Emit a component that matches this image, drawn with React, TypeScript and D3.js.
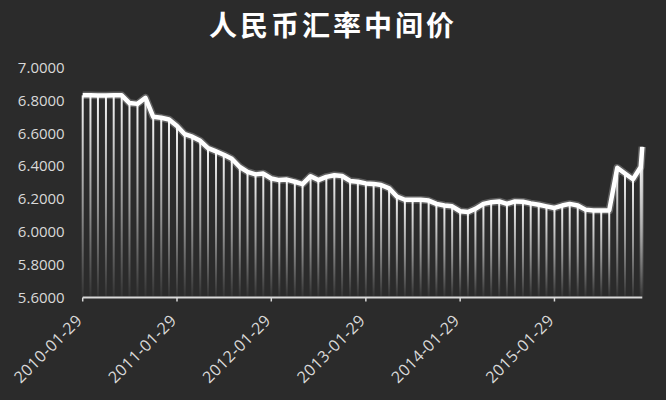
import { useMemo } from "react";
import * as d3 from "d3";

const WIDTH = 666;
const HEIGHT = 400;
const MARGIN = { top: 67, right: 23.7, bottom: 103.5, left: 82.7 };

const TITLE = "人民币汇率中间价";

// month-end fixing, one value per month from 2010-01-29 to 2015-12-29
const FIRST_YEAR = 2010;
const rates = [
  6.827, 6.827, 6.826, 6.826, 6.828, 6.827, 6.78, 6.775, 6.812, 6.696, 6.69, 6.68,
  6.64, 6.59, 6.575, 6.55, 6.505, 6.485, 6.465, 6.44, 6.39, 6.36, 6.345, 6.35,
  6.32, 6.31, 6.313, 6.3, 6.285, 6.334, 6.31, 6.33, 6.34, 6.335, 6.305, 6.3,
  6.29, 6.287, 6.28, 6.26, 6.21, 6.19, 6.19, 6.19, 6.185, 6.165, 6.155, 6.15,
  6.12, 6.115, 6.135, 6.165, 6.175, 6.18, 6.165, 6.18, 6.178, 6.168, 6.16, 6.15,
  6.14, 6.155, 6.165, 6.155, 6.13, 6.125, 6.125, 6.125, 6.385, 6.35, 6.315, 6.39,
];
// one more daily print a few days after the last month
const LAST_DATE = "2016-01-04";
const LAST_RATE = 6.513;

const Y_TICKS = [5.6, 5.8, 6.0, 6.2, 6.4, 6.6, 6.8, 7.0];
const X_TICK_LABELS = [
  "2010-01-29",
  "2011-01-29",
  "2012-01-29",
  "2013-01-29",
  "2014-01-29",
  "2015-01-29",
];

const parseDate = d3.timeParse("%Y-%m-%d");

export default function App() {
  const boundsWidth = WIDTH - MARGIN.left - MARGIN.right;
  const boundsHeight = HEIGHT - MARGIN.top - MARGIN.bottom;

  const data = useMemo(() => {
    const monthly = rates.map((v, i) => {
      const year = FIRST_YEAR + Math.floor(i / 12);
      const month = i % 12;
      const lastDay = new Date(year, month + 1, 0).getDate();
      return { date: new Date(year, month, Math.min(29, lastDay)), value: v };
    });
    return [...monthly, { date: parseDate(LAST_DATE) as Date, value: LAST_RATE }];
  }, []);

  const xScale = useMemo(
    () =>
      d3
        .scaleTime()
        .domain([data[0].date, data[data.length - 1].date])
        .range([0, boundsWidth]),
    [data]
  );

  const yScale = useMemo(
    () => d3.scaleLinear().domain([5.6, 7.0]).range([boundsHeight, 0]),
    []
  );

  const linePath = d3
    .line<{ date: Date; value: number }>()
    .x((d) => xScale(d.date))
    .y((d) => yScale(d.value))(data) as string;

  const fmt = d3.format(".4f");

  return (
    <div
      style={{
        position: "fixed",
        left: 0,
        top: 0,
        width: WIDTH,
        height: HEIGHT,
        background: "#2b2b2b",
      }}
    >
      <svg width={WIDTH} height={HEIGHT} style={{ display: "block" }}>
        <defs>
          <linearGradient id="barGrad" x1="0" y1="0" x2="0" y2="1">
            <stop offset="0%" stopColor="#ffffff" stopOpacity={0.95} />
            <stop offset="55%" stopColor="#ffffff" stopOpacity={0.5} />
            <stop offset="100%" stopColor="#ffffff" stopOpacity={0.04} />
          </linearGradient>
        </defs>
        <rect width={WIDTH} height={HEIGHT} fill="#2b2b2b" />

        <text
          x={WIDTH / 2}
          y={24}
          textAnchor="middle"
          dominantBaseline="central"
          fill="#ffffff"
          fontFamily="'Noto Sans CJK SC', sans-serif"
          fontWeight="bold"
          fontSize={28}
          letterSpacing={3}
        >
          {TITLE}
        </text>

        <g transform={`translate(${MARGIN.left},${MARGIN.top})`}>
          {/* y labels */}
          {Y_TICKS.map((t) => (
            <text
              key={t}
              x={-18}
              y={yScale(t)}
              textAnchor="end"
              dominantBaseline="central"
              fill="#d9d9d9"
              fontFamily="'Open Sans', sans-serif"
              fontSize={15}
            >
              {fmt(t)}
            </text>
          ))}

          {/* bars */}
          {data.map((d, i) => (
            <rect
              key={i}
              x={xScale(d.date) - 1}
              y={yScale(d.value)}
              width={2}
              height={boundsHeight - yScale(d.value)}
              fill="url(#barGrad)"
            />
          ))}

          {/* line */}
          <path
            d={linePath}
            fill="none"
            stroke="#ffffff"
            strokeOpacity={0.25}
            strokeWidth={7.5}
            strokeLinejoin="round"
          />
          <path
            d={linePath}
            fill="none"
            stroke="#ffffff"
            strokeWidth={4.5}
            strokeLinejoin="round"
          />

          {/* x axis */}
          <line
            x1={0}
            x2={boundsWidth}
            y1={boundsHeight + 1}
            y2={boundsHeight + 1}
            stroke="#d9d9d9"
            strokeWidth={2}
          />
          {X_TICK_LABELS.map((lbl) => {
            const x = xScale(parseDate(lbl) as Date);
            return (
              <g key={lbl}>
                <line
                  x1={x}
                  x2={x}
                  y1={boundsHeight + 1}
                  y2={boundsHeight + 5}
                  stroke="#d9d9d9"
                  strokeWidth={1.5}
                />
                <text
                  transform={`translate(${x + 0.5},${boundsHeight + 25}) rotate(-45)`}
                  textAnchor="end"
                  fill="#d9d9d9"
                  fontFamily="'Open Sans', sans-serif"
                  fontSize={16}
                  letterSpacing={0.5}
                >
                  {lbl}
                </text>
              </g>
            );
          })}
        </g>
      </svg>
    </div>
  );
}
